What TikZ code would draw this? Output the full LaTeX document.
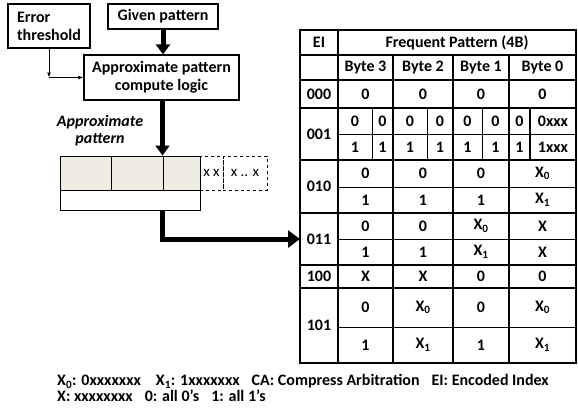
\documentclass[tikz,border=0pt]{standalone}
\usepackage{fontspec}
\setmainfont{Carlito}
\usetikzlibrary{arrows.meta, positioning, calc}
\definecolor{cellfill}{HTML}{EEECE1}

\begin{document}
\begin{tikzpicture}[x=1pt, y=-1pt,
  blockbox/.style={draw, line width=1.2pt, inner sep=0pt, align=center, font=\fontsize{16}{18}\selectfont\bfseries},
  patcell/.style={draw, line width=1pt, inner sep=0pt, minimum height=34pt},
  fatarrow/.style={line width=5pt, -{Triangle[width=14pt,length=10pt]}},
  thinarrow/.style={line width=0.8pt, -{Latex[width=4pt,length=5pt]}},
  thickline/.style={line width=1.8pt},
  thinline/.style={line width=0.7pt},
  cell/.style={font=\fontsize{16}{18}\selectfont\bfseries, inner sep=0pt},
]
\useasboundingbox (0,0) rectangle (578,413);

% input side
\node[blockbox, minimum width=82pt, minimum height=44pt, align=left] (thr) at (49,26) {Error\\threshold};
\node[blockbox, minimum width=110pt, minimum height=25pt] (given) at (163,16.5) {Given pattern};
\node[blockbox, minimum width=155pt, minimum height=45pt] (logic) at (161.5,77.5) {Approximate pattern\\compute logic};
\node[align=center, font=\fontsize{16}{17}\selectfont\bfseries\itshape] (aplabel) at (100,130.5) {Approximate\\pattern};

\coordinate (bend) at (thr.south |- logic.west);
\draw[thinarrow] (thr.south) -- (bend);
\draw[thinarrow] (bend) -- (logic.west);
\draw[fatarrow] (given.south) -- (given.south |- logic.north);

% approximate pattern
\node[patcell, dashed, minimum width=23pt, font=\fontsize{15}{17}\selectfont] (d1) at (211.5,173) {x x};
\node[patcell, dashed, minimum width=44pt, font=\fontsize{15}{17}\selectfont] (d2) at (245,173) {x .. x};
\node[patcell, fill=cellfill, minimum width=51pt] (p1) at (85.5,173) {};
\node[patcell, fill=cellfill, minimum width=52pt] (p2) at (137,173) {};
\node[patcell, fill=cellfill, minimum width=37pt] (p3) at (181.5,173) {};
\node[patcell, minimum width=140pt, minimum height=20pt] (tag) at (130,200) {};

\draw[fatarrow] (logic.south -| p3.north west) -- (p3.north west);
\coordinate (tblin) at (300,239);
\draw[fatarrow, -{Triangle[width=17pt,length=12pt]}] (tag.south -| p3.north west) |- (tblin);

% table grid
\draw[thickline] (300,30) rectangle (576,363);
\draw[thickline] (338,30) -- (338,363);
\foreach \y in {55,80,108,160,213,265,288}
  \draw[thickline] (300,\y) -- (576,\y);
\foreach \x in {393,453,509}
  \draw[thickline] (\x,55) -- (\x,363);
\draw[line width=1pt] (338,134) -- (576,134);
\foreach \y in {187,239,327}
  \draw[thinline] (338,\y) -- (576,\y);
\foreach \x in {372,427,482}
  \draw[thinline] (\x,108) -- (\x,160);
\draw[line width=1.2pt] (530,108) -- (530,160);

% table text
\node[cell] (ei) at (319,42.5) {EI};
\node[cell] (fp) at (457,42.5) {Frequent Pattern (4B)};
\foreach \n/\x in {3/365.5, 2/423, 1/481, 0/542.5}
  \node[cell] (byte\n) at (\x,67.5) {Byte \n};
\foreach \t/\y in {000/94, 001/134, 010/186.5, 011/239, 100/276.5, 101/325.5}
  \node[cell] (ei\t) at (319,\y) {\t};
% 000
\foreach \x in {365.5, 423, 481, 542.5}
  \node[cell] at (\x,94) {0};
% 001
\foreach \x in {355, 382.5, 410, 440, 467.5, 495.5, 519.5} {
  \node[cell] at (\x,121) {0};
  \node[cell] at (\x,147) {1};
}
\node[cell] at (553,121) {0xxx};
\node[cell] at (553,147) {1xxx};
% 010 .. 101
\foreach \y/\a/\b/\c/\d in {
    173.5/0/0/0/X\textsubscript{0},
    200/1/1/1/X\textsubscript{1},
    226/0/0/X\textsubscript{0}/X,
    252/1/1/X\textsubscript{1}/X,
    276.5/X/X/0/0,
    307.5/0/X\textsubscript{0}/0/X\textsubscript{0},
    345/1/X\textsubscript{1}/1/X\textsubscript{1}} {
  \node[cell] at (365.5,\y) {\a};
  \node[cell] at (423,\y) {\b};
  \node[cell] at (481,\y) {\c};
  \node[cell] at (542.5,\y) {\d};
}

% legend
\node[anchor=west, align=left, inner sep=0pt, font=\fontsize{16}{16}\selectfont\bfseries] (legend) at (57,388)
  {X\textsubscript{0}: 0xxxxxxx\hspace{15pt}X\textsubscript{1}: 1xxxxxxx\hspace{12pt}CA: Compress Arbitration\hspace{12pt}EI: Encoded Index\\
   X: xxxxxxxx\hspace{12pt}0: all 0’s\hspace{12pt}1: all 1’s};
\end{tikzpicture}
\end{document}
